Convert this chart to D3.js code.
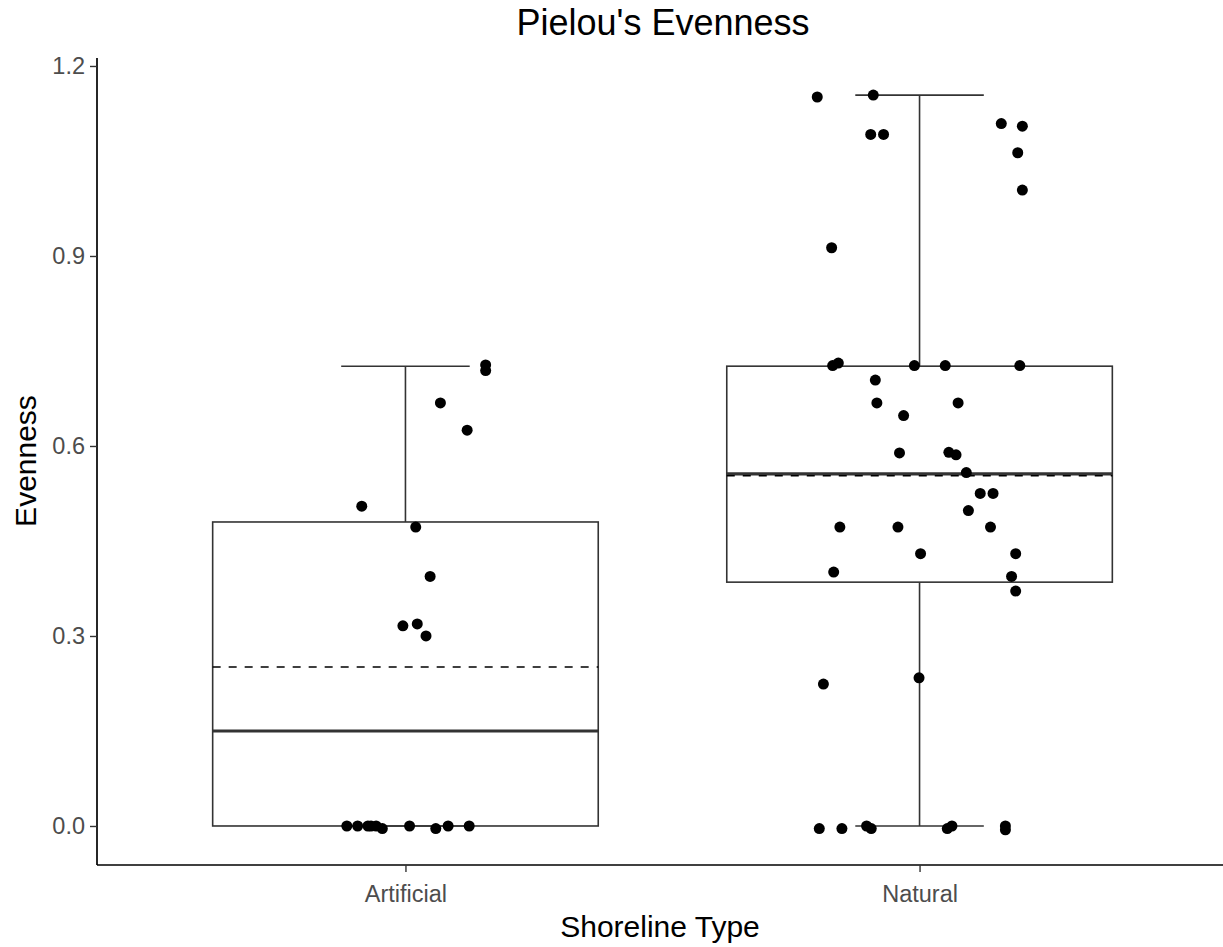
<!DOCTYPE html>
<html><head><meta charset="utf-8">
<script src="https://cdn.jsdelivr.net/npm/d3@7"></script>
<style>body{margin:0;background:#fff}svg{display:block;font-family:"Liberation Sans",Arial,sans-serif}</style>
</head><body><svg id="c" width="1223" height="947"></svg>
<script>
// ---- data ----
const categories = ["Artificial", "Natural"];
const yTicks = [0.0, 0.3, 0.6, 0.9, 1.2];
// box statistics per category: [whiskerLow, q1, median, q3, whiskerHigh, mean]
const boxArtificial = [0, 0, 0.150, 0.480, 0.726, 0.251];
const boxNatural = [0, 0.385, 0.556, 0.726, 1.154, 0.553];
// jittered points: horizontal jitter (category units) and value
const artificialJitter = [0.156, 0.156, 0.068, 0.120, -0.085, 0.020, 0.048, -0.005, 0.023, 0.040,
  -0.114, -0.093, -0.073, -0.057, -0.045, 0.008, 0.059, 0.083, 0.124, -0.067];
const artificialValue = [0.728, 0.719, 0.668, 0.625, 0.505, 0.472, 0.394, 0.316, 0.319, 0.300,
  0, 0, 0, 0, -0.004, 0, -0.004, 0, 0, 0];
const naturalJitter = [-0.199, -0.090, -0.095, -0.070, 0.159, 0.200, 0.191, 0.200, -0.171,
  -0.169, -0.158, -0.010, 0.050, 0.195, -0.086, -0.083, 0.075, -0.031, -0.039, 0.057, 0.071,
  0.091, 0.118, 0.143, 0.095, -0.155, -0.042, 0.138, 0.002, 0.187, -0.167, 0.179, 0.187,
  -0.187, -0.001, -0.195, -0.151, -0.103, -0.094, 0.054, 0.063, 0.167, 0.167];
const naturalValue = [1.151, 1.154, 1.092, 1.092, 1.109, 1.105, 1.063, 1.004, 0.913,
  0.727, 0.731, 0.727, 0.727, 0.727, 0.704, 0.668, 0.668, 0.648, 0.589, 0.590, 0.586,
  0.558, 0.525, 0.525, 0.498, 0.472, 0.472, 0.472, 0.430, 0.430, 0.401, 0.394, 0.371,
  0.224, 0.234, -0.004, -0.004, 0, -0.004, -0.004, 0, 0, -0.006];

const boxes = [boxArtificial, boxNatural];
const jitters = [artificialJitter, naturalJitter];
const values = [artificialValue, naturalValue];

// ---- layout ----
const svg = d3.select("#c");
const panel = {left: 97, right: 1228, top: 58, bottom: 865};
const x = d3.scaleLinear().domain([0.4, 2.6]).range([panel.left, panel.right]);
const y = d3.scaleLinear().domain([-0.0616, 1.2126]).range([panel.bottom, panel.top]);
const boxW = 0.75, capW = 0.25;
const lineCol = "#333333";

categories.forEach((c, i) => {
  const cx = i + 1;
  const [wl, q1, med, q3, wh, mean] = boxes[i];
  const g = svg.append("g");
  g.append("line").attr("x1", x(cx)).attr("x2", x(cx)).attr("y1", y(q3)).attr("y2", y(wh))
    .attr("stroke", lineCol).attr("stroke-width", 1.6);
  g.append("line").attr("x1", x(cx)).attr("x2", x(cx)).attr("y1", y(wl)).attr("y2", y(q1))
    .attr("stroke", lineCol).attr("stroke-width", 1.6);
  [wl, wh].forEach(v => g.append("line").attr("x1", x(cx - capW / 2)).attr("x2", x(cx + capW / 2))
    .attr("y1", y(v)).attr("y2", y(v)).attr("stroke", lineCol).attr("stroke-width", 1.6));
  g.append("rect").attr("x", x(cx - boxW / 2)).attr("width", x(cx + boxW / 2) - x(cx - boxW / 2))
    .attr("y", y(q3)).attr("height", y(q1) - y(q3)).attr("fill", "none")
    .attr("stroke", lineCol).attr("stroke-width", 1.6);
  g.append("line").attr("x1", x(cx - boxW / 2)).attr("x2", x(cx + boxW / 2))
    .attr("y1", y(med)).attr("y2", y(med)).attr("stroke", lineCol).attr("stroke-width", 3.2);
  g.append("line").attr("x1", x(cx - boxW / 2)).attr("x2", x(cx + boxW / 2))
    .attr("y1", y(mean)).attr("y2", y(mean)).attr("stroke", "#000").attr("stroke-width", 1.7)
    .attr("stroke-dasharray", "8,8");
  g.selectAll("circle").data(values[i].map((v, k) => [cx + jitters[i][k], v])).join("circle")
    .attr("cx", d => x(d[0])).attr("cy", d => y(d[1])).attr("r", 5.5).attr("fill", "#000");
});

// axes
const yAxis = d3.axisLeft(y).tickValues(yTicks).tickFormat(d3.format(".1f")).tickSize(7).tickPadding(5);
const gy = svg.append("g").attr("transform", `translate(${panel.left},0)`).call(yAxis);
gy.select(".domain").attr("d", `M0,${panel.top}V${panel.bottom}`).attr("stroke", "#000").attr("stroke-width", 1.7);
gy.selectAll(".tick line").attr("stroke", "#333").attr("stroke-width", 1.4);
gy.selectAll(".tick text").attr("fill", "#4d4d4d").style("font-size", "23.5px").style("font-family", "Liberation Sans, Arial, sans-serif");

const xAxis = d3.axisBottom(x).tickValues([1, 2]).tickFormat(d => categories[d - 1]).tickSize(7).tickPadding(13);
const gx = svg.append("g").attr("transform", `translate(0,${panel.bottom})`).call(xAxis);
gx.select(".domain").attr("d", `M${panel.left},0H1223`).attr("stroke", "#000").attr("stroke-width", 1.7);
gx.selectAll(".tick line").attr("stroke", "#333").attr("stroke-width", 1.4);
gx.selectAll(".tick text").attr("fill", "#4d4d4d").style("font-size", "23.5px").style("font-family", "Liberation Sans, Arial, sans-serif");

// titles
svg.append("text").attr("x", 663).attr("y", 35).attr("text-anchor", "middle")
  .style("font-size", "36px").attr("fill", "#000").text("Pielou's Evenness");
svg.append("text").attr("x", 660).attr("y", 937).attr("text-anchor", "middle")
  .style("font-size", "30px").attr("fill", "#000").text("Shoreline Type");
svg.append("text").attr("transform", "translate(36,461) rotate(-90)").attr("text-anchor", "middle")
  .style("font-size", "30px").attr("fill", "#000").text("Evenness");
</script></body></html>
